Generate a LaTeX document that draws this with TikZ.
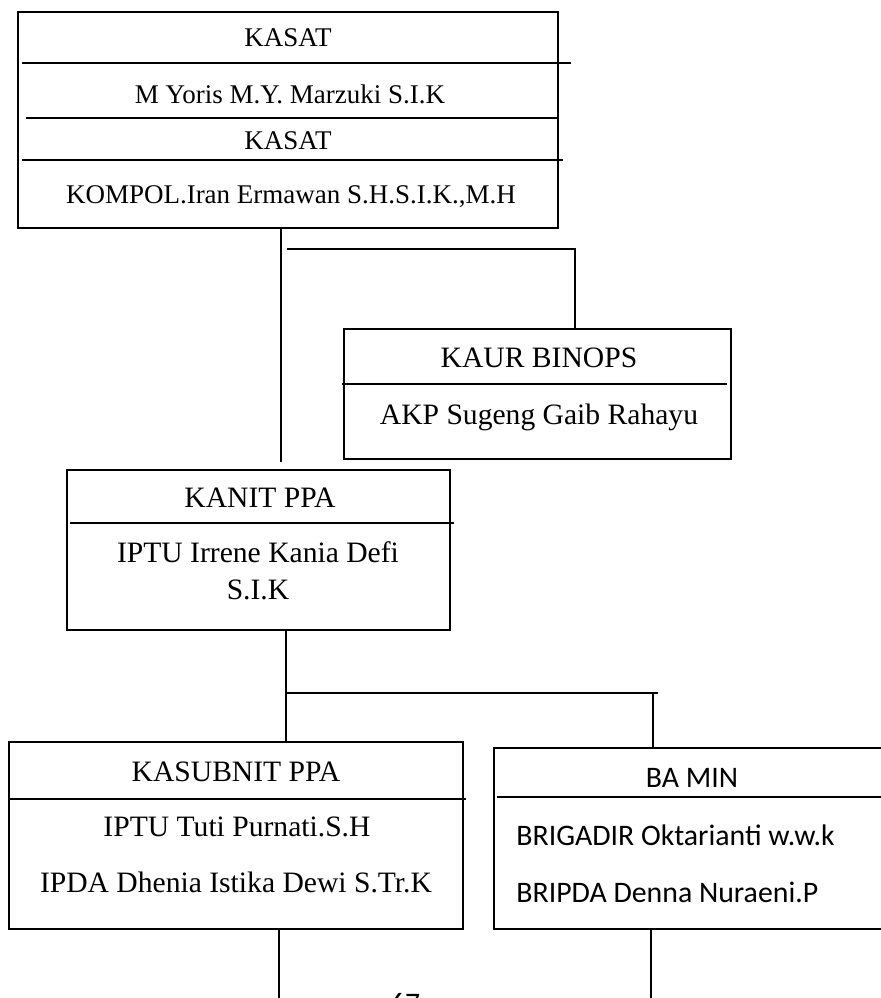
\documentclass[tikz,border=0pt]{standalone}
\usepackage{fontspec}
\setmainfont{Liberation Serif}
\newfontfamily\calibri{Carlito}
\usepackage{tikz}

\begin{document}
\begin{tikzpicture}[x=0.5pt,y=-0.5pt]
	\tikzstyle{unit} = [draw, line width=1pt, inner sep=0pt]
	\tikzstyle{rule} = [line width=1pt]
	\tikzstyle{link} = [line width=1pt]
	\tikzstyle{label} = [inner sep=0pt, font=\fontsize{13.5}{18.5}\selectfont, align=center]
	\tikzstyle{biglabel} = [inner sep=0pt, font=\fontsize{14.8}{18.5}\selectfont, align=center]
	\tikzstyle{clabel} = [inner sep=0pt, font=\calibri\fontsize{14.9}{18}\selectfont]

	\useasboundingbox (0,0) rectangle (881,998);

	% boxes
	\node[unit, minimum width=270pt, minimum height=108pt] (kasat) at (288,120) {};
	\node[unit, minimum width=193.5pt, minimum height=65pt] (kaur) at (537.5,394) {};
	\node[unit, minimum width=191.5pt, minimum height=80pt] (kanit) at (258.5,550) {};
	\node[unit, minimum width=227pt, minimum height=93.5pt] (kasubnit) at (236,835.5) {};
	\node[unit, minimum width=203pt, minimum height=90.5pt] (bamin) at (697,838.5) {};

	% dividers
	\draw[rule] (22,63) -- (571,63);
	\draw[rule] (26,118) -- (558,118);
	\draw[rule] (22,160) -- (563,160);
	\draw[rule] (342,384) -- (727,384);
	\draw[rule] (70,523) -- (454,523);
	\draw[rule] (9,799) -- (466,799);
	\draw[rule] (497,797) -- (900,797);

	% texts
	\node[label] (t1) at (288,38) {KASAT};
	\node[label] (t2) at (290,94) {M Yoris M.Y. Marzuki S.I.K};
	\node[label] (t3) at (288,141) {KASAT};
	\node[label] (t4) at (291,197) {KOMPOL.Iran Ermawan S.H.S.I.K.,M.H};
	\node[biglabel] (t5) at (539,358) {KAUR BINOPS};
	\node[biglabel] (t6) at (539,417) {AKP Sugeng Gaib Rahayu};
	\node[biglabel] (t7) at (260,498) {KANIT PPA};
	\node[biglabel] (t8) at (258,571) {IPTU Irrene Kania Defi\\S.I.K};
	\node[biglabel] (t9) at (236,772) {KASUBNIT PPA};
	\node[biglabel] (t10) at (237,827) {IPTU Tuti Purnati.S.H};
	\node[biglabel] (t11) at (236,882) {IPDA Dhenia Istika Dewi S.Tr.K};
	\node[clabel] (t12) at (692,778) {BA MIN};
	\node[clabel, anchor=west] (t13) at (516,835) {BRIGADIR Oktarianti w.w.k};
	\node[clabel, anchor=west] (t14) at (516,892) {BRIPDA Denna Nuraeni.P};
	\node[clabel, anchor=north] (page) at (405,993) {67};

	% connectors
	\coordinate (a1) at (281,462);
	\draw[link] (kasat.south -| a1) -- (a1);
	\coordinate (a2) at (287,249);
	\coordinate (a3) at (575,249);
	\draw[link] (a2) -- (a3) -- (kaur.north -| a3);
	\coordinate (b1) at (286,693);
	\coordinate (b2) at (658,693);
	\coordinate (b3) at (653,693);
	\draw[link] (kanit.south -| b1) -- (kasubnit.north -| b1);
	\draw[link] (b1) -- (b2);
	\draw[link] (b3) -- (bamin.north -| b3);
	\coordinate (d1) at (279,998);
	\coordinate (d2) at (651,998);
	\draw[link] (kasubnit.south -| d1) -- (d1);
	\draw[link] (bamin.south -| d2) -- (d2);
\end{tikzpicture}
\end{document}
